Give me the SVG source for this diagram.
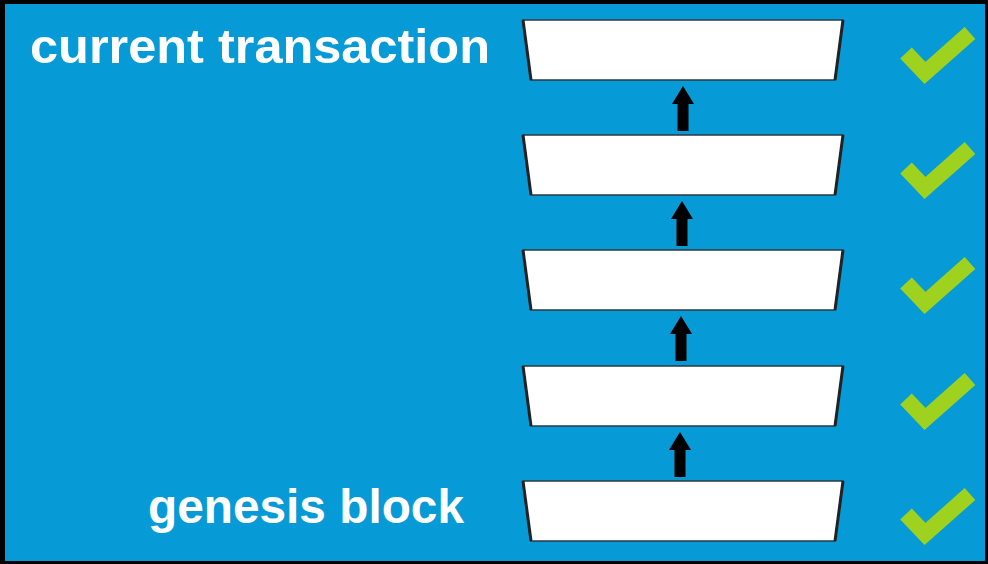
<svg xmlns="http://www.w3.org/2000/svg" width="988" height="564" viewBox="0 0 988 564">
<style>
.lbl{font-family:"Liberation Sans",Arial,sans-serif;font-weight:bold;fill:#ffffff;font-size:48px}
.blk{fill:#ffffff;stroke:#2a3a44;stroke-width:1.5}
.side{stroke:#222;stroke-width:3;fill:none}
.chk{fill:none;stroke:#9fd21e;stroke-width:16;stroke-linejoin:miter;stroke-linecap:butt}
.arr{fill:#000}
</style>
<defs>
<g id="block">
<polygon class="blk" points="523,0 843,0 835,60 531,60"/>
<line class="side" x1="523" y1="0" x2="531" y2="60"/>
<line class="side" x1="843" y1="0" x2="835" y2="60"/>
</g>
<polyline id="check" class="chk" points="906,26 925,46 970,6"/>
<polygon id="arrow" class="arr" points="0,0 11,18 5.5,18 5.5,45 -5.5,45 -5.5,18 -11,18"/>
</defs>
<rect x="0" y="0" width="988" height="564" fill="#000"/>
<rect x="5" y="4" width="980" height="557" fill="#069ad6"/>
<g id="label-current"><text class="lbl" x="30" y="63" textLength="460" lengthAdjust="spacingAndGlyphs">current transaction</text></g>
<g id="label-genesis"><text class="lbl" x="148" y="523" textLength="316" lengthAdjust="spacingAndGlyphs">genesis block</text></g>
<g id="block1"><use href="#block" y="20"/><use href="#check" y="27"/></g>
<g id="block2"><use href="#block" y="135"/><use href="#check" y="142"/></g>
<g id="block3"><use href="#block" y="250"/><use href="#check" y="257"/></g>
<g id="block4"><use href="#block" y="366"/><use href="#check" y="373"/></g>
<g id="block5"><use href="#block" y="481"/><use href="#check" y="488"/></g>
<g id="connectors">
<use href="#arrow" x="683" y="86"/>
<use href="#arrow" x="682" y="201"/>
<use href="#arrow" x="681" y="316"/>
<use href="#arrow" x="680" y="432"/>
</g>
</svg>
